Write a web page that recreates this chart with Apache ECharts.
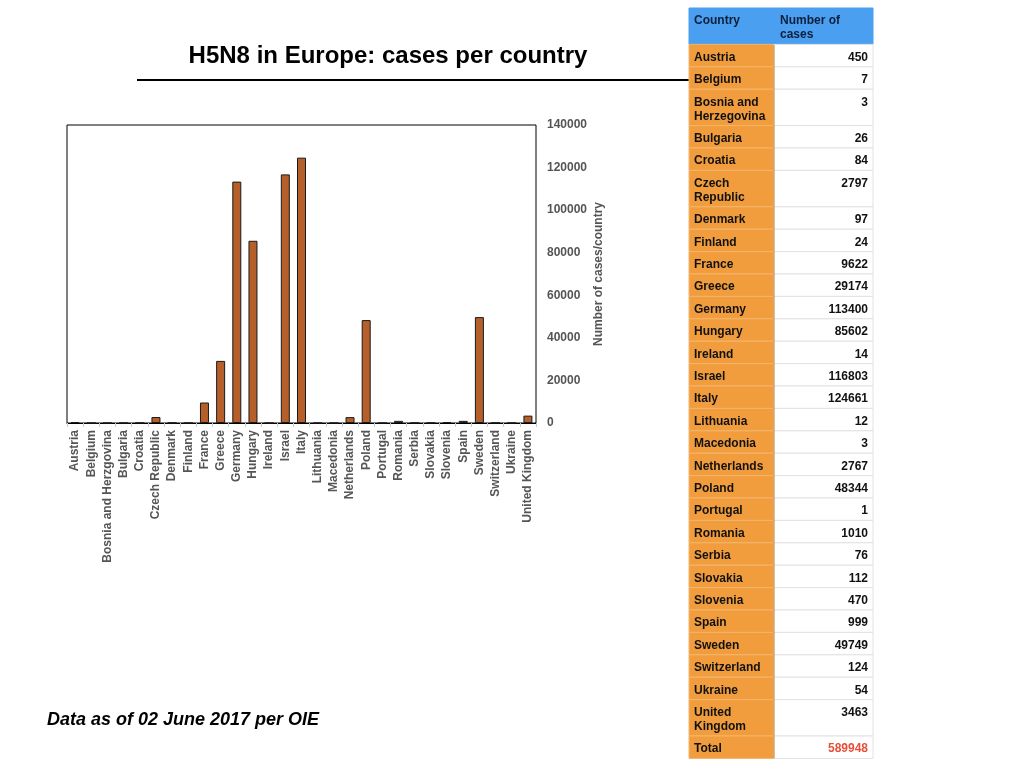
<!DOCTYPE html>
<html>
<head>
<meta charset="utf-8">
<script src="https://cdn.jsdelivr.net/npm/echarts@6/dist/echarts.min.js"></script>
<style>
  html, body { margin: 0; padding: 0; background: #fff; }
  #main { width: 1024px; height: 768px; }
</style>
</head>
<body>
<div id="main"></div>
<script>
// chart categories (as written on the axis)
var countries = ['Austria', 'Belgium', 'Bosnia and Herzgovina', 'Bulgaria', 'Croatia', 'Czech Republic',
	'Denmark', 'Finland', 'France', 'Greece', 'Germany', 'Hungary', 'Ireland', 'Israel', 'Italy',
	'Lithuania', 'Macedonia', 'Netherlands', 'Poland', 'Portugal', 'Romania', 'Serbia', 'Slovakia',
	'Slovenia', 'Spain', 'Sweden', 'Switzerland', 'Ukraine', 'United Kingdom'];
var cases = [450, 7, 3, 26, 84, 2797, 97, 24, 9622, 29174, 113400, 85602, 14, 116803, 124661,
	12, 3, 2767, 48344, 1, 1010, 76, 112, 470, 999, 49749, 124, 54, 3463];
// names as written in the table
var tableNames = ['Austria', 'Belgium', 'Bosnia and\nHerzegovina', 'Bulgaria', 'Croatia', 'Czech\nRepublic',
	'Denmark', 'Finland', 'France', 'Greece', 'Germany', 'Hungary', 'Ireland', 'Israel', 'Italy',
	'Lithuania', 'Macedonia', 'Netherlands', 'Poland', 'Portugal', 'Romania', 'Serbia', 'Slovakia',
	'Slovenia', 'Spain', 'Sweden', 'Switzerland', 'Ukraine', 'United\nKingdom'];
var totalCases = 589948;
var headers = ['Country', 'Number of\ncases'];
var yTicks = [0, 20000, 40000, 60000, 80000, 100000, 120000, 140000];

var FONT = '"Liberation Sans", Arial, Helvetica, sans-serif';

// table drawn with graphic elements
function buildTable() {
	var x0 = 689, c1 = 85, c2 = 99, y = 8;
	var els = [];
	function rowH(txt) { return txt.split('\n').length * 14 + 8.4; }
	function addRow(name, val, opts) {
		var h = Math.max(rowH(name), rowH(val));
		els.push({ type: 'rect', shape: { x: x0, y: y, width: c1, height: h },
			style: { fill: opts.bg1, stroke: opts.line1, lineWidth: 1 } });
		els.push({ type: 'rect', shape: { x: x0 + c1, y: y, width: c2, height: h },
			style: { fill: opts.bg2, stroke: opts.line2, lineWidth: 1 } });
		els.push({ type: 'text', x: x0 + 5, y: y + 6,
			style: { text: name, font: 'bold 12px ' + FONT, fill: opts.color || '#111', lineHeight: 14,
				verticalAlign: 'top', align: 'left' } });
		els.push({ type: 'text', x: opts.valAlign === 'left' ? x0 + c1 + 6 : x0 + c1 + c2 - 5, y: y + 6,
			style: { text: val, font: 'bold 12px ' + FONT, fill: opts.valColor || opts.color || '#111', lineHeight: 14,
				verticalAlign: 'top', align: opts.valAlign || 'right' } });
		y += h;
	}
	addRow(headers[0], headers[1], { bg1: '#4b9ff0', bg2: '#4b9ff0', line1: '#4b9ff0', line2: '#4b9ff0',
		valAlign: 'left', color: '#0d1f3a' });
	for (var i = 0; i < tableNames.length; i++) {
		addRow(tableNames[i], String(cases[i]), { bg1: '#f19d3d', bg2: '#ffffff', line1: '#f4b56c', line2: '#e2e2e2' });
	}
	addRow('Total', String(totalCases), { bg1: '#f19d3d', bg2: '#ffffff', line1: '#f4b56c', line2: '#e2e2e2', valColor: '#e8503a' });
	// column divider
	els.push({ type: 'line', shape: { x1: x0 + c1, y1: 45, x2: x0 + c1, y2: y },
		style: { stroke: '#c98636', lineWidth: 1 } });
	return els;
}

var myChart = echarts.init(document.getElementById('main'));
var option = {
	animation: false,
	textStyle: { fontFamily: FONT },
	grid: {
		left: 67,
		right: 488,
		top: 125,
		bottom: 345,
		show: true,
		borderColor: '#000',
		borderWidth: 1,
		backgroundColor: '#fff'
	},
	xAxis: {
		type: 'category',
		data: countries,
		axisLine: { show: true, lineStyle: { color: '#000', width: 1 } },
		axisTick: { show: true, length: 4, lineStyle: { color: '#ccc' } },
		axisLabel: { rotate: 90, interval: 0, margin: 7, fontSize: 12, fontWeight: 'bold', color: '#555', fontFamily: FONT },
		splitLine: { show: false }
	},
	yAxis: {
		type: 'value',
		position: 'right',
		min: yTicks[0],
		max: yTicks[yTicks.length - 1],
		interval: 20000,
		axisLine: { show: false },
		axisTick: { show: false },
		splitLine: { show: false },
		axisLabel: { margin: 11, fontSize: 12, fontWeight: 'bold', color: '#555', fontFamily: FONT,
			formatter: function (v) { return String(v); } },
		name: 'Number of cases/country',
		nameLocation: 'middle',
		nameRotate: 90,
		nameGap: 57,
		nameTextStyle: { fontSize: 12, fontWeight: 'bold', color: '#555', fontFamily: FONT }
	},
	series: [{
		type: 'bar',
		data: cases,
		barWidth: 9,
		itemStyle: { color: '#b5602b', borderColor: '#1a1a1a', borderWidth: 1 }
	}],
	graphic: [
		{ type: 'text', x: 388, y: 56,
			style: { text: 'H5N8 in Europe: cases per country', font: 'bold 24px ' + FONT, fill: '#000',
				align: 'center', verticalAlign: 'middle' } },
		{ type: 'line', shape: { x1: 137, y1: 80, x2: 690, y2: 80 }, style: { stroke: '#000', lineWidth: 2 } },
		{ type: 'text', x: 47, y: 720,
			style: { text: 'Data as of 02 June 2017 per OIE', font: 'italic bold 18px ' + FONT, fill: '#000',
				align: 'left', verticalAlign: 'middle' } }
	].concat(buildTable())
};
myChart.setOption(option);
</script>
</body>
</html>
